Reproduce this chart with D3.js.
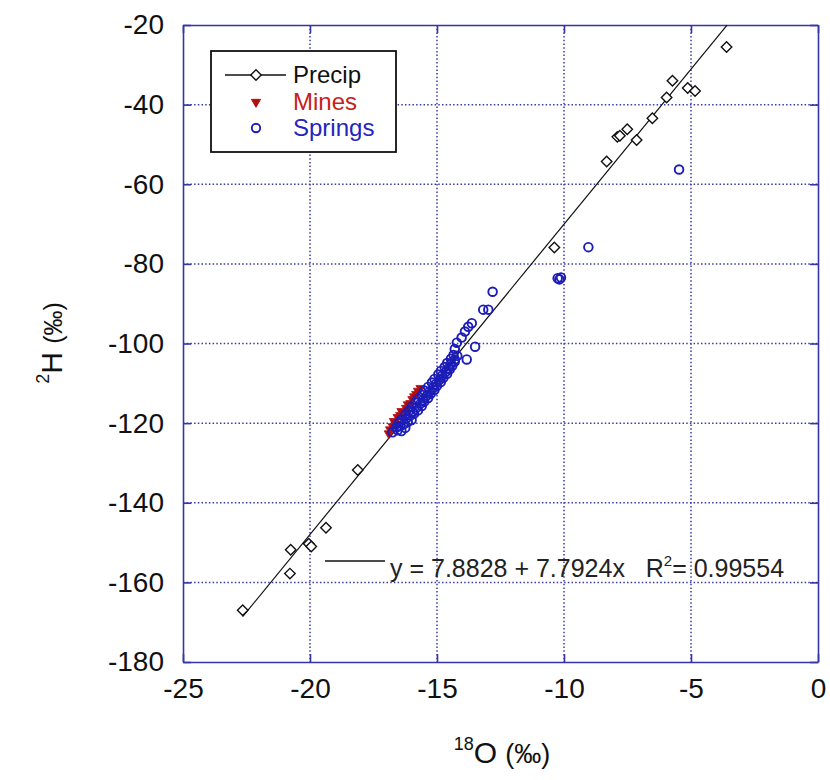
<!DOCTYPE html>
<html>
<head>
<meta charset="utf-8">
<script src="https://cdn.jsdelivr.net/npm/d3@7"></script>
<style>
  body { margin: 0; background: #fff; }
  svg { font-family: "Liberation Sans", Arial, sans-serif; }
</style>
</head>
<body>
<svg id="chart" width="830" height="780"></svg>
<script>
// values (x = 18O ‰, y = 2H ‰)
const precip = [
  [-22.65, -167.0], [-20.79, -157.8], [-20.76, -151.8], [-20.05, -150.3], [-19.95, -151.0],
  [-19.37, -146.3], [-18.12, -131.8], [-10.38, -75.9], [-8.32, -54.3], [-7.90, -48.1],
  [-7.80, -47.8], [-7.51, -46.2], [-7.14, -48.9], [-6.52, -43.4], [-5.96, -38.2],
  [-5.73, -34.0], [-5.13, -35.8], [-4.84, -36.6], [-3.60, -25.5]
];
const mines = [
  [-16.90, -122.6], [-16.85, -121.6], [-16.75, -120.8], [-16.70, -119.5], [-16.62, -120.2],
  [-16.55, -118.5], [-16.45, -118.0], [-16.40, -117.0], [-16.32, -117.7], [-16.22, -116.2],
  [-16.15, -115.3], [-16.05, -115.0], [-15.97, -114.0], [-15.90, -113.3], [-15.82, -112.7],
  [-15.75, -111.9], [-15.65, -111.2]
];
const springs = [
  [-16.75, -122.3], [-16.55, -121.8], [-16.40, -122.0], [-16.60, -121.1], [-16.45, -120.8],
  [-16.25, -121.2], [-16.50, -119.9], [-16.30, -120.2], [-16.15, -119.7], [-16.40, -119.1],
  [-16.20, -118.8], [-16.00, -119.2], [-16.25, -117.9], [-16.05, -118.1], [-15.90, -117.6],
  [-16.10, -116.9], [-15.95, -117.2], [-15.75, -116.8], [-16.00, -115.9], [-15.80, -116.1],
  [-15.60, -115.7], [-15.85, -114.8], [-15.65, -115.1], [-15.50, -114.6], [-15.75, -113.9],
  [-15.55, -114.2], [-15.35, -113.7], [-15.60, -112.9], [-15.40, -113.1], [-15.25, -112.6],
  [-15.50, -111.8], [-15.30, -112.1], [-15.10, -111.7], [-15.35, -110.9], [-15.15, -111.1],
  [-15.00, -110.6], [-15.20, -109.8], [-15.05, -110.2], [-14.85, -109.7], [-15.10, -108.9],
  [-14.90, -109.1], [-14.75, -108.6], [-14.95, -107.8], [-14.80, -108.1], [-14.60, -107.6],
  [-14.85, -106.9], [-14.65, -107.1], [-14.50, -106.5], [-14.70, -105.9], [-14.55, -106.2],
  [-14.40, -105.6], [-14.60, -104.9], [-14.45, -105.1], [-14.30, -104.5], [-14.45, -103.8],
  [-14.30, -104.0], [-14.35, -102.9], [-14.20, -103.1],
  [-14.22, -99.8], [-14.30, -101.4], [-14.03, -98.5], [-13.90, -97.0],
  [-13.77, -95.8], [-13.63, -94.9], [-13.50, -100.8], [-13.83, -104.0], [-13.18, -91.5],
  [-12.98, -91.5], [-12.81, -87.0], [-10.25, -83.6], [-10.18, -83.9], [-10.12, -83.4],
  [-9.04, -75.8], [-5.47, -56.3]
];
const xTicks = [-25, -20, -15, -10, -5, 0];
const yTicks = [-180, -160, -140, -120, -100, -80, -60, -40, -20];
const fitA = 7.8828, fitB = 7.7924, fitR2 = 0.99554;
const fitRange = [-22.65, -3.58];
const legendItems = ['Precip', 'Mines', 'Springs'];

const svg = d3.select('#chart');
const x = d3.scaleLinear().domain([-25, 0]).range([183, 818]);
const y = d3.scaleLinear().domain([-180, -20]).range([662, 25]);
const frameCol = '#3535a5';

// dotted grid
svg.append('g').selectAll('line').data(xTicks.slice(1, -1)).join('line')
  .attr('x1', d => x(d)).attr('x2', d => x(d)).attr('y1', y(-20)).attr('y2', y(-180))
  .attr('stroke', '#3a3aa8').attr('stroke-width', 1.5).attr('stroke-dasharray', '1.5,2.2');
svg.append('g').selectAll('line').data(yTicks.slice(1, -1)).join('line')
  .attr('y1', d => y(d)).attr('y2', d => y(d)).attr('x1', x(-25)).attr('x2', x(0))
  .attr('stroke', '#3a3aa8').attr('stroke-width', 1.5).attr('stroke-dasharray', '1.5,2.2');

// axes with inward ticks
const axFont = g => g.selectAll('text').attr('font-size', 28).attr('fill', '#111')
  .attr('font-family', '"Liberation Sans", Arial, sans-serif');
const fmt = d => String(d);
svg.append('g').attr('transform', `translate(0,${y(-180)})`)
  .call(d3.axisBottom(x).tickValues(xTicks).tickSizeInner(-8).tickSizeOuter(0).tickPadding(16).tickFormat(fmt))
  .call(axFont);
svg.append('g').attr('transform', `translate(${x(-25)},0)`)
  .call(d3.axisLeft(y).tickValues(yTicks).tickSizeInner(-8).tickSizeOuter(0).tickPadding(19).tickFormat(fmt))
  .call(axFont);
svg.append('g').attr('transform', `translate(0,${y(-20)})`)
  .call(d3.axisTop(x).tickValues(xTicks).tickSizeInner(-8).tickSizeOuter(0).tickFormat(''));
svg.append('g').attr('transform', `translate(${x(0)},0)`)
  .call(d3.axisRight(y).tickValues(yTicks).tickSizeInner(-8).tickSizeOuter(0).tickFormat(''));
svg.selectAll('.domain, .tick line').attr('stroke', frameCol).attr('stroke-width', 1.6);

// regression line
const line = d3.line().x(d => x(d)).y(d => y(fitA + fitB * d));
svg.append('path').datum(fitRange).attr('d', line)
  .attr('fill', 'none').attr('stroke', '#111').attr('stroke-width', 1.2);

const diamond = d3.symbol().type(d3.symbolDiamond2).size(70);
const tri = d3.symbol().type(d3.symbolTriangle2).size(60);

// precip
svg.append('g').selectAll('path').data(precip).join('path')
  .attr('d', diamond)
  .attr('transform', d => `translate(${x(d[0])},${y(d[1])})`)
  .attr('fill', '#fff').attr('stroke', '#111').attr('stroke-width', 1.4);

// mines
svg.append('g').selectAll('path').data(mines).join('path')
  .attr('d', tri)
  .attr('transform', d => `translate(${x(d[0])},${y(d[1])}) rotate(180)`)
  .attr('fill', '#b40f0f').attr('stroke', '#b40f0f').attr('stroke-width', 0.8);

// springs
svg.append('g').selectAll('circle').data(springs).join('circle')
  .attr('cx', d => x(d[0])).attr('cy', d => y(d[1])).attr('r', 4.3)
  .attr('fill', 'none').attr('stroke', '#1c1cb8').attr('stroke-width', 1.9);

// legend
const lg = svg.append('g');
lg.append('rect').attr('x', 211).attr('y', 51).attr('width', 185).attr('height', 101)
  .attr('fill', '#fff').attr('stroke', '#111').attr('stroke-width', 1.8);
const rows = [75, 102, 128];
lg.append('line').attr('x1', 225).attr('x2', 286).attr('y1', rows[0]).attr('y2', rows[0])
  .attr('stroke', '#111').attr('stroke-width', 1.4);
lg.append('path').attr('d', diamond).attr('transform', `translate(256,${rows[0]})`)
  .attr('fill', '#fff').attr('stroke', '#111').attr('stroke-width', 1.4);
lg.append('path').attr('d', tri).attr('transform', `translate(256,${rows[1]}) rotate(180)`)
  .attr('fill', '#b40f0f').attr('stroke', '#b40f0f');
lg.append('circle').attr('cx', 256).attr('cy', rows[2]).attr('r', 4.2)
  .attr('fill', 'none').attr('stroke', '#1c1cb8').attr('stroke-width', 1.9);
const legendColors = ['#111', '#c82020', '#2424c0'];
lg.selectAll('text.lab').data(legendItems).join('text').attr('class', 'lab')
  .attr('x', 293).attr('y', (d, i) => rows[i] + 8)
  .attr('font-size', 24).attr('fill', (d, i) => legendColors[i]).text(d => d);

// fit annotation
svg.append('line').attr('x1', 325).attr('x2', 385).attr('y1', 561).attr('y2', 561)
  .attr('stroke', '#111').attr('stroke-width', 1.4);
const ft = svg.append('text').attr('x', 390).attr('y', 577).attr('font-size', 25).attr('fill', '#222');
ft.append('tspan').text(`y = ${fitA} + ${fitB}x\u00a0\u00a0\u00a0R`);
ft.append('tspan').attr('font-size', 15).attr('dy', -11).text('2');
ft.append('tspan').attr('dy', 11).text(`= ${fitR2}`);

// axis titles
const xt = svg.append('text').attr('x', 502).attr('y', 763).attr('text-anchor', 'middle').attr('fill', '#111');
xt.append('tspan').attr('font-size', 18).attr('dy', -13).text('18');
xt.append('tspan').attr('font-size', 30).attr('dy', 13).text('O ');
xt.append('tspan').attr('font-size', 27).attr('font-family', '"Liberation Sans Narrow", "Liberation Sans", Arial').text('(‰)');

const yt = svg.append('text').attr('transform', 'translate(62,343) rotate(-90)')
  .attr('text-anchor', 'middle').attr('fill', '#111');
yt.append('tspan').attr('font-size', 18).attr('dy', -13).text('2');
yt.append('tspan').attr('font-size', 30).attr('dy', 13).text('H ');
yt.append('tspan').attr('font-size', 25).attr('font-family', '"Liberation Sans Narrow", "Liberation Sans", Arial').text('(‰)');
</script>
</body>
</html>
